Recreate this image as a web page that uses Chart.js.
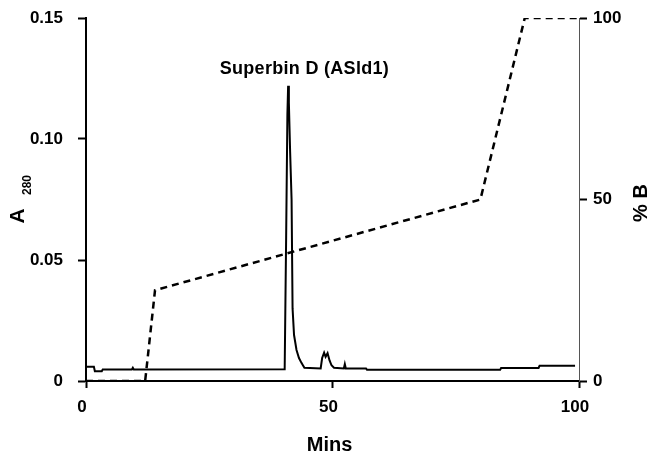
<!DOCTYPE html>
<html>
<head>
<meta charset="utf-8">
<script src="https://cdn.jsdelivr.net/npm/chart.js@4.4.1/dist/chart.umd.min.js"></script>
<style>
  html, body { margin: 0; padding: 0; background: #fff; }
  #wrap { width: 653px; height: 458px; }
</style>
</head>
<body>
<div id="wrap"><canvas id="hplc" width="653" height="458"></canvas></div>
<script>
const FONT = "'Liberation Sans', Arial, Helvetica, sans-serif";

// absorbance trace (A280) vs time
const traceMins = [0, 1.6, 1.8, 3.2, 3.4, 9.3, 9.5, 9.7, 40.3, 40.6, 40.85, 41.0, 41.15, 41.4, 41.7, 41.9,
  42.2, 42.7, 43.2, 43.7, 44.3, 47.6, 47.9, 48.3, 48.6, 49.0, 49.4, 49.8, 50.3, 52.3, 52.5, 52.7,
  56.8, 57.0, 84.0, 84.2, 91.8, 92.0, 99.2];
const traceAbs = [0.0059, 0.0059, 0.004, 0.004, 0.0048, 0.0048, 0.0055, 0.0048, 0.0049, 0.06, 0.11, 0.122, 0.115, 0.095, 0.075, 0.03,
  0.019, 0.0128, 0.0095, 0.0075, 0.0055, 0.0052, 0.0095, 0.0117, 0.01, 0.0115, 0.0085, 0.0065, 0.0055, 0.0052, 0.007, 0.0052,
  0.0052, 0.0046, 0.0046, 0.0054, 0.0054, 0.0063, 0.0063];

// solvent gradient (% B)
const gradMins = [0, 12, 14, 80, 89, 100];
const gradB = [0, 0, 25, 50, 100, 100];

const xTicks = [0, 50, 100];
const absTicks = [0, 0.05, 0.10, 0.15];
const bTicks = [0, 50, 100];

const peakLabel = 'Superbin D (ASld1)';

const toPoints = (xs, ys) => xs.map((x, i) => ({ x, y: ys[i] }));

// fixed side widths, and no extra top/bottom padding from tick labels
const fixVertical = w => s => {
  s.width = w;
  s.paddingTop = 0;
  s.paddingBottom = 0;
};

// axis titles + peak annotation
const textPlugin = {
  id: 'texts',
  afterDraw(chart) {
    const { ctx, scales } = chart;
    const { x, y } = scales;
    ctx.save();
    ctx.fillStyle = '#000';
    ctx.textAlign = 'center';
    ctx.textBaseline = 'middle';

    ctx.font = `bold 18px ${FONT}`;
    ctx.letterSpacing = '0.3px';
    ctx.fillText(peakLabel, x.getPixelForValue(44.3), y.getPixelForValue(0.129));
    ctx.letterSpacing = '0px';

    ctx.font = `bold 20px ${FONT}`;
    ctx.fillText('Mins', (x.left + x.right) / 2 - 3, 445);

    // A with subscript 280, rotated
    ctx.save();
    ctx.translate(18, 216);
    ctx.rotate(-Math.PI / 2);
    ctx.font = `bold 21px ${FONT}`;
    ctx.fillText('A', 0, 0);
    ctx.font = `bold 12px ${FONT}`;
    ctx.fillText('280', 31, 10);
    ctx.restore();

    ctx.save();
    ctx.translate(641, 203);
    ctx.rotate(-Math.PI / 2);
    ctx.font = `bold 20px ${FONT}`;
    ctx.fillText('% B', 0, 0);
    ctx.restore();

    ctx.restore();
  }
};

new Chart(document.getElementById('hplc'), {
  type: 'line',
  data: {
    datasets: [
      {
        label: 'A280',
        data: toPoints(traceMins, traceAbs),
        yAxisID: 'y',
        borderColor: '#000',
        borderWidth: 2,
        pointRadius: 0,
        tension: 0,
        fill: false,
      },
      {
        label: '% B',
        data: toPoints(gradMins, gradB),
        yAxisID: 'y2',
        borderColor: '#000',
        borderWidth: 2.5,
        borderDash: [7, 5],
        pointRadius: 0,
        tension: 0,
        fill: false,
      },
    ],
  },
  options: {
    responsive: false,
    animation: false,
    devicePixelRatio: 1,
    layout: { padding: { top: 18, left: 0, right: 0, bottom: 0 } },
    plugins: {
      legend: { display: false },
      tooltip: { enabled: false },
    },
    scales: {
      x: {
        type: 'linear',
        min: 0,
        max: 100,
        afterBuildTicks: s => { s.ticks = xTicks.map(v => ({ value: v })); },
        afterFit: s => { s.height = 77; },
        grid: { drawOnChartArea: false, color: '#000', tickLength: 7, tickWidth: 2 },
        border: { display: true, color: '#000', width: 2 },
        ticks: { color: '#000', font: { family: FONT, size: 17, weight: 'bold' }, padding: 9, labelOffset: -4, maxRotation: 0 },
      },
      y: {
        position: 'left',
        min: 0,
        max: 0.15,
        afterBuildTicks: s => { s.ticks = absTicks.map(v => ({ value: v })); },
        afterFit: fixVertical(86),
        grid: { drawOnChartArea: false, color: '#000', tickLength: 8, tickWidth: 2 },
        border: { display: true, color: '#000', width: 2 },
        ticks: {
          color: '#000',
          font: { family: FONT, size: 17, weight: 'bold' },
          padding: 15,
          callback: v => (v === 0 ? '0' : v.toFixed(2)),
        },
      },
      y2: {
        position: 'right',
        min: 0,
        max: 100,
        afterBuildTicks: s => { s.ticks = bTicks.map(v => ({ value: v })); },
        afterFit: fixVertical(74),
        grid: { drawOnChartArea: false, color: '#000', tickLength: 8, tickWidth: 2 },
        border: { display: true, color: '#555', width: 1 },
        ticks: { color: '#000', font: { family: FONT, size: 17, weight: 'bold' }, padding: 6 },
      },
    },
  },
  plugins: [textPlugin],
});
</script>
</body>
</html>
